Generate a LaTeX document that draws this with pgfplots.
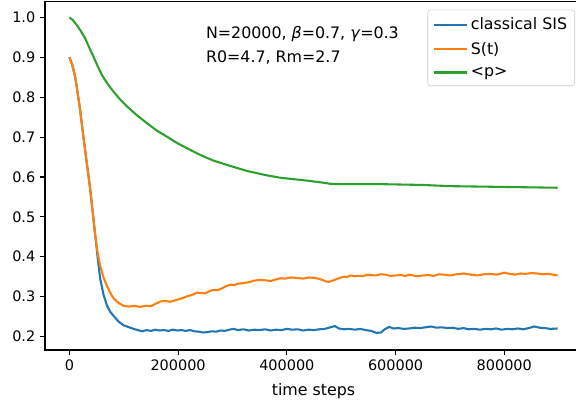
\documentclass[border=0pt]{standalone}
\usepackage{fontspec}
\setmainfont{DejaVu Sans}
\usepackage{pgfplots}
\pgfplotsset{compat=1.18}

\definecolor{mplblue}{HTML}{1F77B4}
\definecolor{mplorange}{HTML}{FF7F0E}
\definecolor{mplgreen}{HTML}{2CA02C}

\begin{document}
\begin{tikzpicture}
\begin{axis}[
    name=ax,
    scale only axis,
    width=386.6pt,
    height=250.6pt,
    xmin=-44900, xmax=942900,
    ymin=0.166, ymax=1.039,
    axis line style={line width=0.8pt},
    tick align=outside,
    major tick length=3.5pt,
    tick style={line width=0.8pt, black},
    xtick={0,200000,400000,600000,800000},
    ytick={0.2,0.3,0.4,0.5,0.6,0.7,0.8,0.9,1.0},
    xtick pos=bottom, ytick pos=left,
    scaled x ticks=false,
    x tick label style={/pgf/number format/.cd, fixed, 1000 sep={}},
    y tick label style={/pgf/number format/.cd, fixed, fixed zerofill, precision=1},
    /pgf/number format/assume math mode=true,
    tick label style={font=\fontsize{10.4}{12}\selectfont},
    xlabel={time steps},
    xlabel style={font=\fontsize{11.4}{13.5}\selectfont, yshift=-2pt},
    legend cell align=left,
    legend style={at={(1,1)}, anchor=north east, xshift=-5pt, yshift=-5.5pt,
        draw=black!20, rounded corners=2pt, fill=white, fill opacity=0.8, text opacity=1,
        font=\fontsize{11.4}{13.5}\selectfont, row sep=3.6pt, inner xsep=3.5pt, inner ysep=3.5pt},
    legend image code/.code={\draw[#1, line width=1.5pt] (0pt,0pt) -- (24pt,0pt);},
]

% classical SIS
\addplot[color=mplblue, line width=1.5pt, line join=round] coordinates {
    (0,0.900) (5000,0.882) (10500,0.852) (15000,0.812) (19700,0.768) (25800,0.700)
    (32000,0.635) (38200,0.570) (43000,0.510) (47400,0.455) (52000,0.398) (56600,0.345)
    (62700,0.305) (69000,0.278) (75000,0.262) (81000,0.252) (90000,0.238) (99500,0.228)
    (110000,0.223) (118000,0.219) (126000,0.216) (134000,0.213) (142000,0.216) (150000,0.214)
    (158000,0.217) (166000,0.215) (174000,0.216) (182000,0.214) (190000,0.217) (198000,0.215)
    (206000,0.216) (214000,0.214) (222000,0.216) (230000,0.213) (238000,0.212) (246000,0.210)
    (254000,0.211) (262000,0.213) (270000,0.212) (278000,0.215) (286000,0.214) (294000,0.217)
    (302000,0.219) (310000,0.216) (320000,0.218) (330000,0.215) (340000,0.217) (350000,0.216)
    (360000,0.218) (370000,0.215) (380000,0.217) (390000,0.216) (400000,0.219) (410000,0.217)
    (420000,0.218) (430000,0.215) (440000,0.217) (450000,0.216) (460000,0.218) (470000,0.219)
    (480000,0.223) (488000,0.226) (496000,0.220) (505000,0.218) (515000,0.219) (525000,0.217)
    (535000,0.219) (545000,0.216) (555000,0.214) (565000,0.209) (573000,0.210) (580000,0.218)
    (588000,0.224) (596000,0.220) (605000,0.221) (615000,0.219) (625000,0.220) (635000,0.222)
    (645000,0.221) (655000,0.223) (665000,0.225) (675000,0.222) (685000,0.223) (695000,0.221)
    (705000,0.222) (715000,0.219) (725000,0.221) (735000,0.218) (745000,0.219) (755000,0.217)
    (765000,0.219) (775000,0.218) (785000,0.220) (795000,0.217) (805000,0.219) (815000,0.218)
    (825000,0.220) (835000,0.218) (845000,0.221) (855000,0.225) (865000,0.222) (875000,0.221)
    (885000,0.219) (898000,0.220)
};
\addlegendentry{classical SIS}

% S(t)
\addplot[color=mplorange, line width=1.5pt, line join=round] coordinates {
    (0,0.900) (5000,0.882) (10500,0.852) (15000,0.812) (19700,0.768) (25800,0.700)
    (32000,0.635) (38200,0.570) (43000,0.510) (47400,0.455) (52000,0.410) (56600,0.377)
    (62700,0.348) (69000,0.327) (75000,0.310) (81000,0.296) (88000,0.287) (94000,0.281)
    (100000,0.277) (110000,0.275) (120000,0.277) (130000,0.274) (140000,0.277) (150000,0.276)
    (160000,0.283) (168000,0.288) (176000,0.289) (185000,0.287) (193000,0.290) (200000,0.293)
    (208000,0.296) (215000,0.300) (225000,0.304) (235000,0.310) (243000,0.309) (250000,0.308)
    (258000,0.314) (265000,0.317) (272000,0.316) (280000,0.320) (288000,0.326) (296000,0.330)
    (303000,0.329) (310000,0.332) (320000,0.334) (330000,0.336) (340000,0.340) (351000,0.342)
    (360000,0.341) (370000,0.339) (380000,0.343) (388000,0.346) (397000,0.345) (407000,0.348)
    (418000,0.347) (430000,0.345) (440000,0.348) (450000,0.347) (458000,0.345) (465000,0.342)
    (472000,0.338) (477000,0.337) (484000,0.340) (490000,0.343) (497000,0.347) (505000,0.350)
    (511000,0.349) (517000,0.353) (525000,0.351) (533000,0.352) (540000,0.351) (548000,0.355)
    (555000,0.354) (563000,0.353) (573000,0.356) (582000,0.355) (590000,0.352) (600000,0.353)
    (610000,0.354) (618000,0.352) (625000,0.355) (632000,0.353) (640000,0.351) (650000,0.353)
    (660000,0.354) (670000,0.352) (680000,0.356) (690000,0.355) (700000,0.353) (712000,0.356)
    (726000,0.358) (738000,0.355) (751000,0.353) (763000,0.356) (775000,0.357) (787000,0.355)
    (800000,0.360) (810000,0.357) (820000,0.355) (830000,0.358) (840000,0.357) (850000,0.359)
    (861000,0.358) (870000,0.356) (880000,0.357) (890000,0.355) (898000,0.353)
};
\addlegendentry{S(t)}

% <p>
\addplot[color=mplgreen, line width=1.5pt, line join=round] coordinates {
    (0,1.000) (6000,0.994) (13600,0.981) (21000,0.966) (28900,0.948) (36000,0.926)
    (44200,0.902) (52000,0.878) (59700,0.856) (70000,0.834) (81100,0.814) (93000,0.795)
    (105800,0.777) (124000,0.755) (142700,0.735) (160000,0.717) (179500,0.701) (197000,0.686)
    (216400,0.672) (241000,0.655) (265000,0.641) (300000,0.626) (327000,0.615) (360000,0.605)
    (388000,0.598) (430000,0.592) (460000,0.587) (480000,0.583) (500000,0.582) (573000,0.582)
    (650000,0.580) (700000,0.577) (800000,0.575) (898000,0.573)
};
\addlegendentry{<p>}

\node[anchor=base west, inner sep=0pt, font=\fontsize{11.4}{13.5}\selectfont] at (axis cs:251000,0.948)
    {N=20000, \textit{β}=0.7, \textit{γ}=0.3};
\node[anchor=base west, inner sep=0pt, font=\fontsize{11.4}{13.5}\selectfont] at (axis cs:251000,0.888)
    {R0=4.7, Rm=2.7};
\end{axis}
\pgfresetboundingbox
\path[use as bounding box] ([xshift=-32.4pt,yshift=-38.16pt]ax.south west)
    rectangle ([xshift=382.3pt,yshift=252pt]ax.south west);
\end{tikzpicture}
\end{document}
